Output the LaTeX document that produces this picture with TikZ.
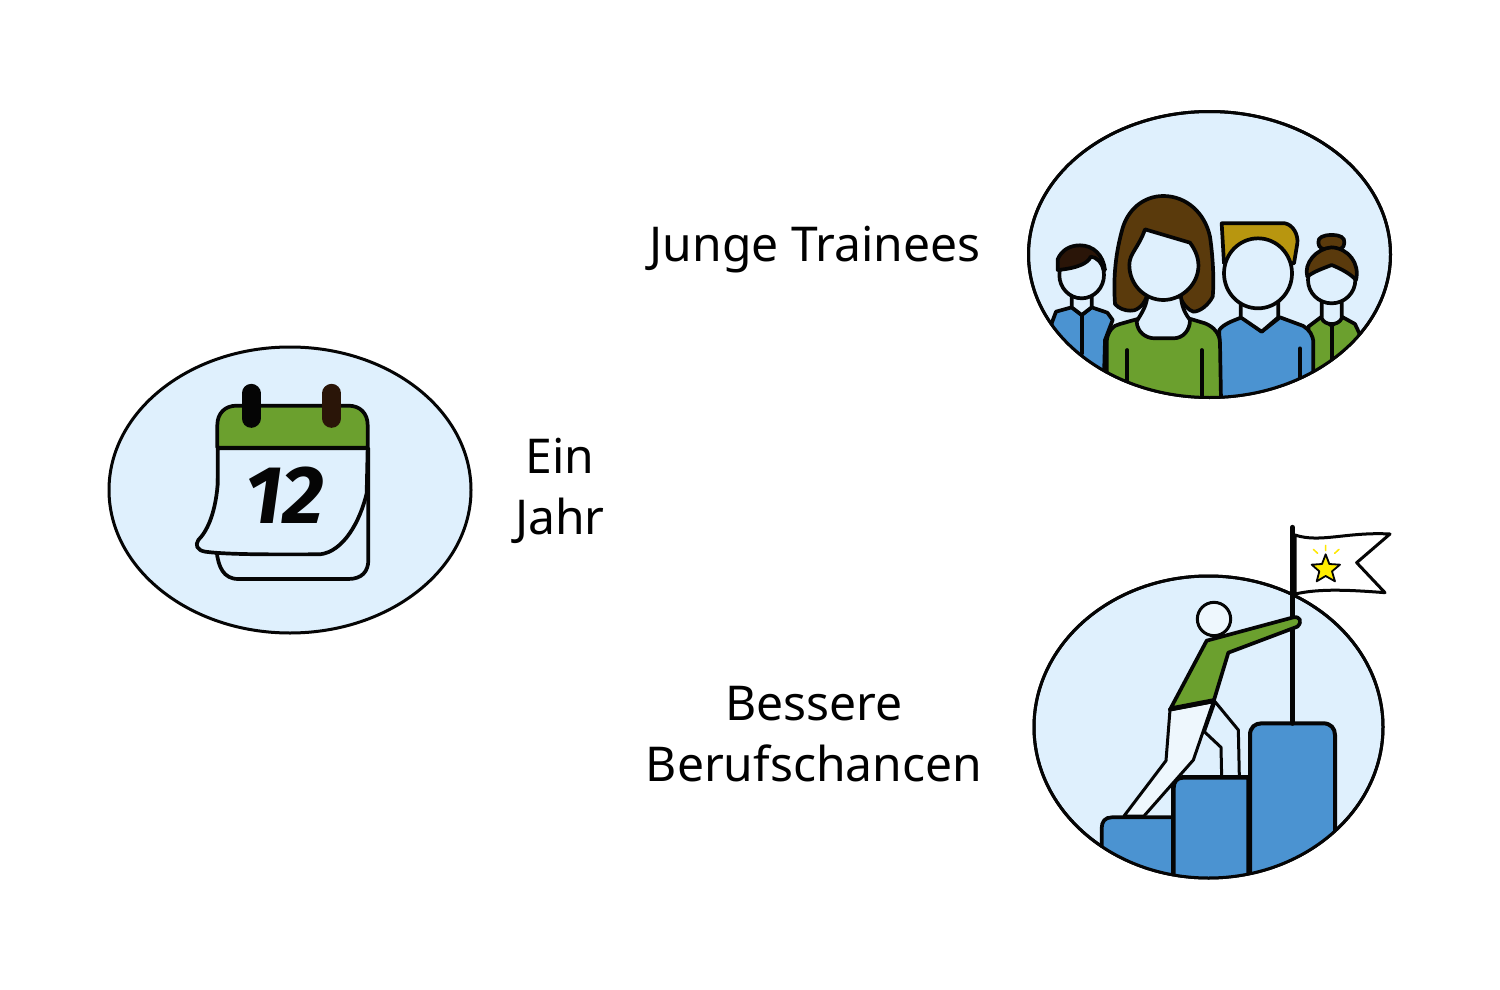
\documentclass[tikz,border=0pt]{standalone}
\usepackage{fontspec}
\setmainfont{Noto Sans}
\newfontfamily\numfont{Fira Sans}
\definecolor{skyc}{HTML}{DFF0FD}
\definecolor{palec}{HTML}{EEF7FD}
\definecolor{greenc}{HTML}{6BA02E}
\definecolor{bluec}{HTML}{4B93D1}
\definecolor{brownc}{HTML}{5A3A0C}
\definecolor{goldc}{HTML}{B8960F}
\definecolor{darkc}{HTML}{2A1508}
\definecolor{inkc}{HTML}{050505}
\tikzset{
 ink/.style={draw=inkc,line width=3.7pt,line join=round,line cap=round},
 disc/.style={ink,fill=skyc,line width=3pt},
 label/.style={font=\fontsize{48}{61}\selectfont,align=center,text=black,inner sep=0pt},
 zoomA/.style={shift={(1020,100)},x=0.33333pt,y=-0.33333pt},
 zoomB/.style={shift={(1020,520)},x=0.33333pt,y=-0.33333pt},
 zoomC/.style={shift={(180,375)},x=0.33333pt,y=-0.33333pt},
}
\begin{document}
\begin{tikzpicture}[x=1pt,y=-1pt]
\path[use as bounding box,fill=white] (0,0) rectangle (1500,990);

\node[label] (trainees) at (815,250) {Junge Trainees};
\node[label] (jahr) at (560,491) {Ein\\Jahr};
\node[label] (chancen) at (814,734) {Bessere\\Berufschancen};

% calendar
\draw[disc] (290,490) ellipse [x radius=181,y radius=143];
\begin{scope}[zoomC]
 \draw[ink,fill=skyc] (110,530) .. controls (115,575) and (130,612) .. (175,612) -- (505,612) .. controls (545,612) and (565,590) .. (565,555) -- (565,220) -- (115,220) -- cycle;
 \draw[ink,fill=skyc] (113,220) -- (113,330) .. controls (105,420) and (80,470) .. (55,495) .. controls (45,510) and (50,525) .. (75,530) .. controls (150,540) and (300,538) .. (420,538) .. controls (490,530) and (540,440) .. (560,355) -- (563,220) -- cycle;
 \draw[ink,fill=greenc] (112,218) -- (112,150) .. controls (112,115) and (135,92) .. (170,92) -- (505,92) .. controls (540,92) and (563,115) .. (563,150) -- (563,218) -- cycle;
 \draw[draw=inkc,line width=19pt,line cap=round] (213,55) -- (213,130);
 \draw[draw=darkc,line width=19pt,line cap=round] (455,55) -- (455,130);
 \node[font=\numfont\bfseries\itshape\fontsize{82}{82}\selectfont,inner sep=0pt,text=inkc] (twelve) at (315,362) {12};
\end{scope}

% people
\draw[disc] (1209.5,254.5) ellipse [x radius=181,y radius=143];
\begin{scope}
\clip (1209.5,254.5) ellipse [x radius=181,y radius=143];
\begin{scope}[zoomA]
 % left man
 \draw[ink,fill=bluec] (95,670) -- (108,635) -- (155,622) -- (185,645) -- (215,622) -- (262,638) -- (278,660) -- (255,720) -- (250,900) -- (95,900) -- cycle;
 \draw[ink] (187,645) -- (187,760);
 \draw[ink,fill=skyc] (155,585) -- (155,622) -- (185,645) -- (215,622) -- (215,585) -- cycle;
 \draw[ink,fill=skyc] (185,525) ellipse [x radius=67,y radius=70];
 \draw[ink,fill=darkc] (113,510) -- (113,478) .. controls (125,450) and (150,436) .. (180,436) .. controls (220,436) and (250,465) .. (255,510) .. controls (245,490) and (230,470) .. (212,470) .. controls (205,490) and (170,505) .. (113,510) -- cycle;
 % right woman
 \draw[ink,fill=greenc] (865,680) -- (905,650) -- (935,678) -- (965,650) -- (1005,672) -- (1018,700) -- (1018,900) -- (875,900) -- cycle;
 \draw[ink] (935,680) -- (935,790);
 \draw[ink,fill=skyc] (905,600) -- (905,655) .. controls (915,678) and (955,678) .. (965,655) -- (965,600) -- cycle;
 \draw[ink,fill=brownc] (895,428) .. controls (893,412) and (910,405) .. (935,405) .. controls (960,405) and (975,412) .. (973,428) .. controls (973,445) and (960,450) .. (935,450) .. controls (910,450) and (895,445) .. (895,428) -- cycle;
 \draw[ink,fill=skyc] (935,540) ellipse [x radius=71,y radius=70];
 \draw[ink,fill=brownc] (862,530) .. controls (850,490) and (890,445) .. (935,442) .. controls (985,445) and (1020,490) .. (1008,540) .. controls (990,520) and (960,505) .. (935,495) .. controls (910,505) and (880,515) .. (862,530) -- cycle;
 % man
 \draw[ink,fill=goldc] (605,370) -- (795,370) .. controls (820,375) and (835,405) .. (832,430) -- (822,490) -- (612,490) -- cycle;
 \draw[ink,fill=bluec] (598,690) .. controls (610,672) and (640,662) .. (665,652) -- (725,695) -- (780,652) -- (850,678) .. controls (868,690) and (880,705) .. (880,730) -- (880,900) -- (600,900) -- cycle;
 \draw[ink] (840,745) -- (840,840);
 \draw[ink,fill=skyc] (662,605) -- (662,652) -- (725,695) -- (775,652) -- (775,605) -- cycle;
 \draw[ink,fill=skyc] (714,520) ellipse [x radius=102,y radius=105];
 % woman
 \draw[ink,fill=brownc] (285,612) .. controls (280,540) and (285,470) .. (305,395) .. controls (320,330) and (370,288) .. (430,288) .. controls (500,288) and (555,340) .. (570,410) .. controls (580,480) and (582,550) .. (578,590) .. controls (565,615) and (540,635) .. (520,635) .. controls (505,630) and (490,615) .. (480,590) -- (380,590) .. controls (370,620) and (345,635) .. (330,632) .. controls (315,632) and (295,625) .. (285,612) -- cycle;
 \draw[ink,fill=greenc] (260,900) -- (260,725) .. controls (262,695) and (280,675) .. (300,672) -- (360,655) -- (505,655) -- (555,670) .. controls (580,680) and (600,700) .. (600,730) -- (603,900) -- cycle;
 \draw[ink] (322,750) -- (322,850) (545,750) -- (545,900);
 \draw[ink,fill=skyc] (382,590) .. controls (378,625) and (360,645) .. (350,665) .. controls (352,695) and (375,715) .. (405,715) -- (460,715) .. controls (490,715) and (510,690) .. (510,660) .. controls (495,640) and (485,620) .. (483,590) -- cycle;
 \draw[ink,fill=skyc] (375,388) -- (510,428) .. controls (530,455) and (537,480) .. (535,505) .. controls (530,560) and (480,600) .. (430,600) .. controls (375,600) and (328,555) .. (328,495) .. controls (328,460) and (355,445) .. (375,388) -- cycle;
\end{scope}
\end{scope}
\draw[ink,line width=3pt] (1209.5,254.5) ellipse [x radius=181,y radius=143];

% climber
\draw[disc] (1208.5,727) ellipse [x radius=174.5,y radius=151];
\begin{scope}
\clip (1208.5,727) ellipse [x radius=174.5,y radius=151];
\begin{scope}[zoomB]
 \draw[ink,fill=bluec] (245,1100) -- (245,925) .. controls (245,905) and (255,892) .. (275,892) -- (460,892) -- (460,1100) -- cycle;
 \draw[ink,fill=bluec,line width=4.5pt] (460,1100) -- (460,805) .. controls (460,785) and (470,772) .. (490,772) -- (686,772) -- (686,1100) -- cycle;
 \draw[ink,fill=bluec,line width=4pt] (690,1100) -- (690,645) .. controls (690,622) and (705,610) .. (725,610) -- (910,610) .. controls (932,610) and (945,625) .. (945,645) -- (945,1100) -- cycle;
\end{scope}
\end{scope}
\draw[ink,line width=3pt] (1208.5,727) ellipse [x radius=174.5,y radius=151];
\begin{scope}[zoomB]
 \draw[ink,fill=white,line width=3pt] (825,45) .. controls (900,70) and (980,35) .. (1110,42) -- (1010,128) -- (1095,218) .. controls (990,210) and (900,205) .. (825,222) -- cycle;
 \draw[draw=inkc,line width=5pt,line cap=round] (817,22) -- (817,610);
 \draw[draw=inkc,line width=1.8pt,fill=yellow!95!orange,line join=round] (917,103) -- (928,132) -- (960,134) -- (936,154) -- (945,184) -- (917,168) -- (890,184) -- (898,154) -- (875,134) -- (906,132) -- cycle;
 \draw[yellow!90!orange,line width=1.5pt,line cap=round] (880,88) -- (893,100) (917,76) -- (917,92) (957,88) -- (944,100);
 % back leg
 \draw[ink,fill=skyc,line width=3pt] (585,545) -- (655,630) -- (658,770) -- (605,770) -- (603,682) -- (553,635) -- cycle;
 % front leg
 \draw[ink,fill=palec,line width=3pt] (450,570) -- (438,722) -- (312,888) -- (372,888) -- (520,720) -- (580,545) -- cycle;
 % head
 \draw[ink,fill=palec,line width=3pt] (582,297) circle [radius=50];
 % torso and arm
 \draw[ink,fill=greenc] (560,362) -- (820,292) .. controls (840,288) and (848,305) .. (832,320) -- (625,398) -- (582,540) -- (452,565) -- cycle;
 \draw[ink,line width=4pt] (450,568) -- (582,543);
\end{scope}
\end{tikzpicture}
\end{document}
